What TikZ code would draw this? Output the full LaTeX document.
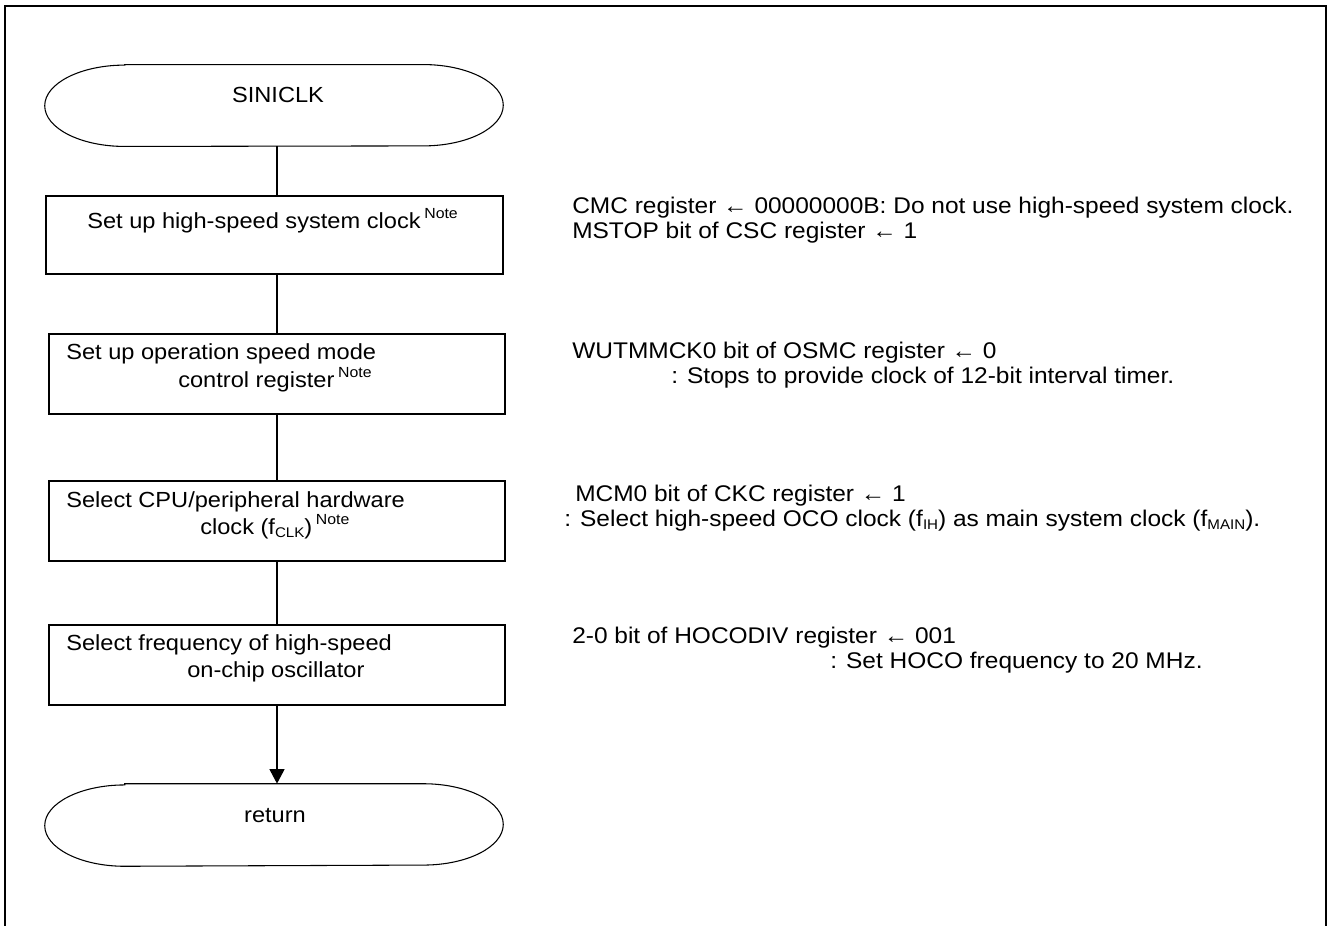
\documentclass[tikz,border=0pt]{standalone}
\usepackage{fontspec}
\setmainfont{Liberation Sans}[FakeStretch=1.08]
\usetikzlibrary{arrows.meta}
\newcommand{\nsup}{\,\raisebox{7.5pt}{\fontsize{11}{13}\selectfont Note}}
\newcommand{\lsub}[1]{\raisebox{-2.5pt}{\fontsize{10.5}{12}\selectfont #1}}
\tikzset{
  proc/.style={draw, line width=1pt, inner sep=0pt, minimum width=342pt, minimum height=60pt},
  termbox/.style={inner sep=0pt, minimum width=343.5pt, minimum height=61pt},
  termline/.style={line width=0.8pt},
  conn/.style={line width=2pt},
  txt/.style={inner sep=0pt, anchor=base west, font=\fontsize{16.4}{19}\selectfont},
  rtxt/.style={inner sep=0pt, anchor=base west, font=\fontsize{17}{20}\selectfont},
  ctxt/.style={inner sep=0pt, anchor=base, font=\fontsize{16.4}{19}\selectfont},
  framel/.style={line width=1.8pt}
}
\newcommand{\stadium}[1]{%
  \draw[termline] ([xshift=60pt]#1.north west) -- ([xshift=-60pt]#1.north east)
    arc[start angle=90, end angle=-90, x radius=60pt, y radius=30.5pt]
    -- ([xshift=60pt]#1.south west)
    arc[start angle=270, end angle=90, x radius=60pt, y radius=30.5pt] -- cycle;}
\begin{document}
\begin{tikzpicture}[x=0.75pt,y=-0.75pt]
\useasboundingbox (0,0) rectangle (1328,925);
% frame
\draw[framel] (5,930) -- (5,6) -- (1326,6) -- (1326,930);

\coordinate (axis) at (277,0);

% flowchart
\node[termbox] (start) at (274,105.5) {};
\stadium{start}
\node[ctxt] (tstart) at (278,102) {SINICLK};

\node[proc, minimum width=342.75pt, minimum height=58.5pt] (b1) at (274.5,235) {};
\node[txt] (t1) at (87,228) {Set up high-speed system clock\nsup};

\node[proc] (b2) at (277,374) {};
\node[txt] (t2a) at (66,359) {Set up operation speed mode};
\node[txt] (t2b) at (178,387) {control register\nsup};

\node[proc] (b3) at (277,521) {};
\node[txt] (t3a) at (66,507) {Select CPU/peripheral hardware};
\node[txt] (t3b) at (200,534) {clock (f\lsub{CLK})\nsup};

\node[proc] (b4) at (277,665) {};
\node[txt] (t4a) at (66,650) {Select frequency of high-speed};
\node[txt] (t4b) at (187,677) {on-chip oscillator};

\node[termbox, minimum height=61.5pt] (ret) at (274,825) {};
\stadium{ret}
\node[ctxt] (tret) at (275,822) {return};

% connectors
\draw[conn] (start.south -| axis) -- (b1.north -| axis);
\draw[conn] (b1.south -| axis) -- (b2.north -| axis);
\draw[conn] (b2.south -| axis) -- (b3.north -| axis);
\draw[conn] (b3.south -| axis) -- (b4.north -| axis);
\draw[conn, -{Triangle[length=11pt, width=11pt]}] (b4.south -| axis) -- (ret.north -| axis);

% comments
\node[rtxt] (c1a) at (572,213) {CMC register ← 00000000B: Do not use high-speed system clock.};
\node[rtxt] (c1b) at (572,238) {MSTOP bit of CSC register ← 1};

\node[rtxt] (c2a) at (572,358) {WUTMMCK0 bit of OSMC register ← 0};
\node[rtxt] (c2b) at (671,383) {: Stops to provide clock of 12-bit interval timer.};

\node[rtxt] (c3a) at (575,501) {MCM0 bit of CKC register ← 1};
\node[rtxt] (c3b) at (564,526) {: Select high-speed OCO clock (f\lsub{IH}) as main system clock (f\lsub{MAIN}).};

\node[rtxt] (c4a) at (572,643) {2-0 bit of HOCODIV register ← 001};
\node[rtxt] (c4b) at (830,668) {: Set HOCO frequency to 20 MHz.};
\end{tikzpicture}
\end{document}
